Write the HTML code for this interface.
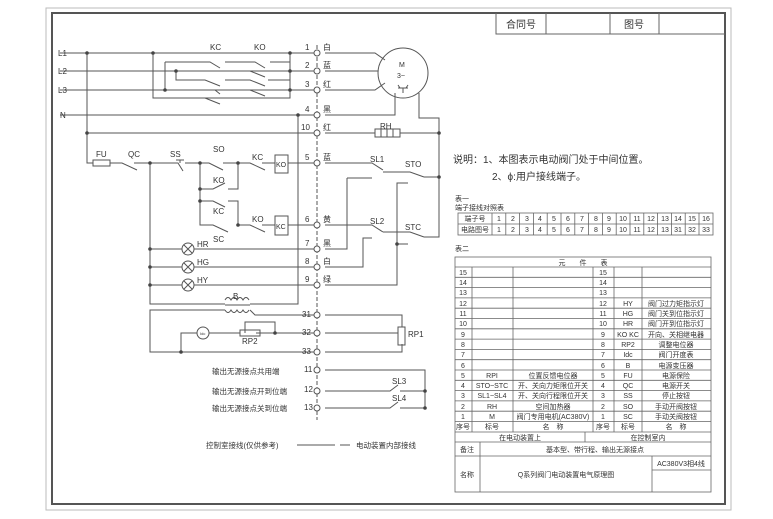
<!DOCTYPE html>
<html><head><meta charset="utf-8"><style>
html,body{margin:0;padding:0;background:#fff;}
svg{display:block;font-family:"Liberation Sans","Noto Sans CJK SC",sans-serif;}
text{fill:#333;}
</style></head><body>
<svg width="773" height="519" viewBox="0 0 773 519" xmlns="http://www.w3.org/2000/svg">
<rect width="773" height="519" fill="#fff"/>
<!-- frame -->
<rect x="46" y="8" width="685" height="502" fill="none" stroke="#bbb" stroke-width="1"/>
<rect x="52" y="13" width="673" height="491" fill="none" stroke="#555" stroke-width="2"/>
<!-- header -->
<g stroke="#666" fill="none" stroke-width="1">
<path d="M496 13 V34 H725 M546 13 V34 M610 13 V34 M659 13 V34"/>
</g>
<text x="506" y="28" font-size="10">合同号</text>
<text x="624" y="28" font-size="10">图号</text>

<g stroke="#555" fill="none" stroke-width="1">
<!-- terminal column dashed -->
<path d="M317 45 V420" stroke-dasharray="4,2"/>
<!-- L lines -->
<path d="M60 53 H317 M60 71 H317 M60 90 H317 M60 115 H317 M87 133 H317"/>
<path d="M87 53 V163 H93"/>
<!-- power contacts structure -->
<path d="M153 53 V98 H290 V53"/>
<path d="M165 62 V90 M165 62 H210 L220 68 M225 62 H255 L265 68 M270 62 H290"/>
<path d="M176 71 V80 H205 L220 86 M225 80 H250 L265 86 M268 80 H290 V71"/>
<path d="M205 98 L220 104"/>
<path d="M240 71 H250 L265 77 M215 90 L220 94 M250 90 L265 96"/>
<!-- motor lines -->
<path d="M325 53 H375 L385 60 M325 71 H378 M325 90 H375 L385 83"/>
<circle cx="403" cy="73" r="25"/>
<path d="M395 93 V115 H325 M419 93 V118 H439 V237 H430"/>
<path d="M398 88 H408 M403 88 V93 M398 85 L400 88 M408 85 L406 88"/>
<!-- line 10 RH -->
<path d="M325 133 H375 M400 133 H439"/>
<rect x="375" y="129" width="25" height="8"/>
<path d="M381 129 V137 M387 129 V137 M393 129 V137"/>
<!-- row 5 -->
<rect x="93" y="160" width="17" height="6"/>
<path d="M110 163 H122 L137 170 M134 163 H178 L183 171 M185 163 H209 L223 170 M223 163 H250 L265 170 M262 163 H275 M288 163 H317"/>
<path d="M176 160 H184 M180 160 V163"/>
<path d="M150 163 V304 H225 M250 304 H298 V115"/>
<path d="M200 163 V218 M200 189 H213 L225 183 M228 189 H238 V163"/>
<path d="M200 201 H213 L225 207 M228 201 H238 V225 M200 218 V225 H213 L228 232 M238 225 H250 L265 232 M262 225 H275 M288 225 H317"/>
<rect x="275" y="155" width="13" height="18"/>
<rect x="275" y="216" width="13" height="19"/>
<!-- right side row 5/6 -->
<path d="M325 163 H372 L383 170 M383 172 H410 L424 177 M424 177 H439"/>
<path d="M325 225 H372 L383 232 M383 232 H410 L424 237 M424 237 H430"/>
<path d="M347 178 H372 M347 178 V249 H325"/>
<path d="M372 238 H363 V267 H325"/>
<path d="M408 183 H397 V285 H325 M397 244 H408"/>
<!-- lamps -->
<path d="M150 249 H182 M194 249 H317 M150 267 H182 M194 267 H317 M150 285 H182 M194 285 H317"/>
<circle cx="188" cy="249" r="6"/><circle cx="188" cy="267" r="6"/><circle cx="188" cy="285" r="6"/>
<path d="M184 245 L192 253 M192 245 L184 253 M184 263 L192 271 M192 263 L184 271 M184 281 L192 289 M192 281 L184 289"/>
<!-- transformer -->
<path d="M225 300 q3 -5 6 0 q3 -5 6 0 q3 -5 6 0 q3 -5 6 0 M225 310 q3 5 6 0 q3 5 6 0 q3 5 6 0 q3 5 6 0 M225 305 H250"/>
<path d="M225 310 H150 V352 H317 M250 310 L255 315 H317"/>
<path d="M325 315 H402 V327 M325 333 H398 M325 352 H402 V344"/>
<rect x="398" y="327" width="7" height="18"/>
<circle cx="203" cy="333" r="6"/>
<path d="M181 352 V333 H197 M209 333 H240 M256 333 H317 M245 333 V322 H275 V333"/>
<rect x="240" y="330" width="20" height="6"/>
<!-- outputs -->
<path d="M325 370 H425 V408 M325 391 H390 L398 385 M400 391 H425 M325 408 H390 L398 402 M400 408 H425"/>
<path d="M297 445 H335 M340 445 H350"/>
</g>
<!-- terminals -->
<g stroke="#555" fill="#fff">
<circle cx="317" cy="53" r="3"/><circle cx="317" cy="71" r="3"/><circle cx="317" cy="90" r="3"/>
<circle cx="317" cy="115" r="3"/><circle cx="317" cy="133" r="3"/><circle cx="317" cy="163" r="3"/>
<circle cx="317" cy="225" r="3"/><circle cx="317" cy="249" r="3"/><circle cx="317" cy="267" r="3"/>
<circle cx="317" cy="285" r="3"/><circle cx="317" cy="315" r="3"/><circle cx="317" cy="333" r="3"/>
<circle cx="317" cy="352" r="3"/><circle cx="317" cy="370" r="3"/><circle cx="317" cy="391" r="3"/><circle cx="317" cy="408" r="3"/>
</g>
<g fill="#444">
<circle cx="87" cy="53" r="1.8"/><circle cx="87" cy="133" r="1.8"/><circle cx="153" cy="53" r="1.8"/><circle cx="176" cy="71" r="1.8"/><circle cx="165" cy="90" r="1.8"/>
<circle cx="290" cy="53" r="1.8"/><circle cx="290" cy="71" r="1.8"/><circle cx="290" cy="90" r="1.8"/><circle cx="298" cy="115" r="1.8"/>
<circle cx="150" cy="163" r="1.8"/><circle cx="200" cy="163" r="1.8"/><circle cx="238" cy="163" r="1.8"/><circle cx="200" cy="189" r="1.8"/><circle cx="200" cy="201" r="1.8"/><circle cx="238" cy="225" r="1.8"/>
<circle cx="150" cy="249" r="1.8"/><circle cx="150" cy="267" r="1.8"/><circle cx="150" cy="285" r="1.8"/>
<circle cx="439" cy="133" r="1.8"/><circle cx="439" cy="177" r="1.8"/><circle cx="397" cy="244" r="1.8"/>
<circle cx="275" cy="333" r="1.8"/><circle cx="181" cy="352" r="1.8"/><circle cx="425" cy="391" r="1.8"/><circle cx="425" cy="408" r="1.8"/>
</g>
<g font-size="8">
<text x="58" y="56">L1</text><text x="58" y="74">L2</text><text x="58" y="93">L3</text><text x="60" y="118">N</text>
<text x="210" y="50">KC</text><text x="254" y="50">KO</text>
<text x="399" y="67" font-size="7">M</text><text x="397" y="78" font-size="7">3~</text>
<text x="305" y="50">1</text><text x="305" y="68">2</text><text x="305" y="87">3</text><text x="305" y="112">4</text><text x="301" y="130">10</text>
<text x="305" y="160">5</text><text x="305" y="222">6</text><text x="305" y="246">7</text><text x="305" y="264">8</text><text x="305" y="282">9</text>
<text x="302" y="317">31</text><text x="302" y="335">32</text><text x="302" y="354">33</text>
<text x="304" y="372">11</text><text x="304" y="392">12</text><text x="304" y="410">13</text>
<text x="323" y="50">白</text><text x="323" y="68">蓝</text><text x="323" y="87">红</text><text x="323" y="112">黑</text><text x="323" y="130">红</text>
<text x="323" y="160">蓝</text><text x="323" y="222">黄</text><text x="323" y="246">黑</text><text x="323" y="264">白</text><text x="323" y="282">绿</text>
<text x="380" y="129">RH</text>
<text x="96" y="157">FU</text><text x="128" y="157">QC</text><text x="170" y="157">SS</text><text x="213" y="152">SO</text>
<text x="252" y="160">KC</text><text x="276" y="167" font-size="7">KO</text>
<text x="213" y="183">KO</text><text x="213" y="214">KC</text><text x="213" y="242">SC</text>
<text x="252" y="222">KO</text><text x="276" y="229" font-size="7">KC</text>
<text x="370" y="162">SL1</text><text x="405" y="167">STO</text>
<text x="370" y="224">SL2</text><text x="405" y="230">STC</text>
<text x="197" y="247">HR</text><text x="197" y="265">HG</text><text x="197" y="283">HY</text>
<text x="233" y="299">B</text><text x="242" y="344">RP2</text><text x="408" y="337">RP1</text>
<text x="200" y="335" font-size="4">Idc</text>
<text x="392" y="384">SL3</text><text x="392" y="401">SL4</text>
<text x="212" y="374" font-size="7.5">输出无源接点共用端</text>
<text x="212" y="394" font-size="7.5">输出无源接点开到位端</text>
<text x="212" y="411" font-size="7.5">输出无源接点关到位端</text>
<text x="206" y="448" font-size="7.5">控制室接线(仅供参考)</text>
<text x="356" y="448" font-size="7.5">电动装置内部接线</text>
<text x="453" y="163" font-size="10">说明：1、本图表示电动阀门处于中间位置。</text>
<text x="492" y="180" font-size="10">2、ϕ:用户接线端子。</text>
<text x="455" y="201" font-size="7">表一</text>
<text x="455" y="210" font-size="7">端子接线对照表</text>
<text x="455" y="251" font-size="7">表二</text>
</g>
<!-- table1 -->
<g stroke="#666" fill="none" stroke-width="0.8">
<rect x="458" y="213" width="255" height="22"/>
<path d="M458 224 H713"/>
<path d="M492 213 V235 M505.8 213 V235 M519.6 213 V235 M533.4 213 V235 M547.2 213 V235 M561 213 V235 M574.8 213 V235 M588.6 213 V235 M602.4 213 V235 M616.2 213 V235 M630 213 V235 M643.8 213 V235 M657.6 213 V235 M671.4 213 V235 M685.2 213 V235 M699 213 V235"/>
</g>
<g font-size="7" text-anchor="middle">
<text x="475" y="221">端子号</text><text x="475" y="232">电路图号</text>
<text x="499" y="221">1</text><text x="513" y="221">2</text><text x="527" y="221">3</text><text x="540" y="221">4</text><text x="554" y="221">5</text><text x="568" y="221">6</text><text x="582" y="221">7</text><text x="596" y="221">8</text><text x="609" y="221">9</text><text x="623" y="221">10</text><text x="637" y="221">11</text><text x="651" y="221">12</text><text x="665" y="221">13</text><text x="678" y="221">14</text><text x="692" y="221">15</text><text x="706" y="221">16</text>
<text x="499" y="232">1</text><text x="513" y="232">2</text><text x="527" y="232">3</text><text x="540" y="232">4</text><text x="554" y="232">5</text><text x="568" y="232">6</text><text x="582" y="232">7</text><text x="596" y="232">8</text><text x="609" y="232">9</text><text x="623" y="232">10</text><text x="637" y="232">11</text><text x="651" y="232">12</text><text x="665" y="232">13</text><text x="678" y="232">31</text><text x="692" y="232">32</text><text x="706" y="232">33</text>
</g>
<!-- table2 -->
<g stroke="#666" fill="none" stroke-width="0.8">
<rect x="455" y="257" width="256" height="235"/>
<path d="M455 267 H711 M455 277.3 H711 M455 287.6 H711 M455 297.9 H711 M455 308.2 H711 M455 318.5 H711 M455 328.8 H711 M455 339.1 H711 M455 349.4 H711 M455 359.7 H711 M455 370 H711 M455 380.3 H711 M455 390.6 H711 M455 400.9 H711 M455 411.2 H711 M455 421.5 H711 M455 432 H711 M455 442 H711 M455 456 H711"/>
<path d="M472 267 V432 M513 267 V432 M593 267 V432 M614 267 V432 M642 267 V432 M585 432 V442 M480 442 V492 M652 456 V492 M652 470 H711"/>
</g>
<g font-size="7" text-anchor="middle">
<text x="583" y="265">元　　件　　表</text>
<text x="463" y="275">15</text><text x="603" y="275">15</text>
<text x="463" y="285">14</text><text x="603" y="285">14</text>
<text x="463" y="295">13</text><text x="603" y="295">13</text>
<text x="463" y="306">12</text><text x="603" y="306">12</text><text x="628" y="306">HY</text><text x="676" y="306">阀门过力矩指示灯</text>
<text x="463" y="316">11</text><text x="603" y="316">11</text><text x="628" y="316">HG</text><text x="676" y="316">阀门关到位指示灯</text>
<text x="463" y="326">10</text><text x="603" y="326">10</text><text x="628" y="326">HR</text><text x="676" y="326">阀门开到位指示灯</text>
<text x="463" y="337">9</text><text x="603" y="337">9</text><text x="628" y="337">KO KC</text><text x="676" y="337">开向、关相继电器</text>
<text x="463" y="347">8</text><text x="603" y="347">8</text><text x="628" y="347">RP2</text><text x="676" y="347">调整电位器</text>
<text x="463" y="357">7</text><text x="603" y="357">7</text><text x="628" y="357">Idc</text><text x="676" y="357">阀门开度表</text>
<text x="463" y="368">6</text><text x="603" y="368">6</text><text x="628" y="368">B</text><text x="676" y="368">电源变压器</text>
<text x="463" y="378">5</text><text x="492" y="378">RPI</text><text x="553" y="378">位置反馈电位器</text><text x="603" y="378">5</text><text x="628" y="378">FU</text><text x="676" y="378">电源保险</text>
<text x="463" y="388">4</text><text x="492" y="388">STO~STC</text><text x="553" y="388">开、关向力矩限位开关</text><text x="603" y="388">4</text><text x="628" y="388">QC</text><text x="676" y="388">电源开关</text>
<text x="463" y="398">3</text><text x="492" y="398">SL1~SL4</text><text x="553" y="398">开、关向行程限位开关</text><text x="603" y="398">3</text><text x="628" y="398">SS</text><text x="676" y="398">停止按钮</text>
<text x="463" y="409">2</text><text x="492" y="409">RH</text><text x="553" y="409">空间加热器</text><text x="603" y="409">2</text><text x="628" y="409">SO</text><text x="676" y="409">手动开阀按钮</text>
<text x="463" y="419">1</text><text x="492" y="419">M</text><text x="553" y="419">阀门专用电机(AC380V)</text><text x="603" y="419">1</text><text x="628" y="419">SC</text><text x="676" y="419">手动关阀按钮</text>
<text x="463" y="429">序号</text><text x="492" y="429">标号</text><text x="553" y="429">名　称</text><text x="603" y="429">序号</text><text x="628" y="429">标号</text><text x="676" y="429">名　称</text>
<text x="520" y="440">在电动装置上</text><text x="648" y="440">在控制室内</text>
<text x="467" y="452">备注</text><text x="595" y="452">基本型、带行程、输出无源接点</text>
<text x="467" y="477">名称</text><text x="566" y="477">Q系列阀门电动装置电气原理图</text><text x="681" y="466">AC380V3相4线</text>
</g>
</svg>
</body></html>
